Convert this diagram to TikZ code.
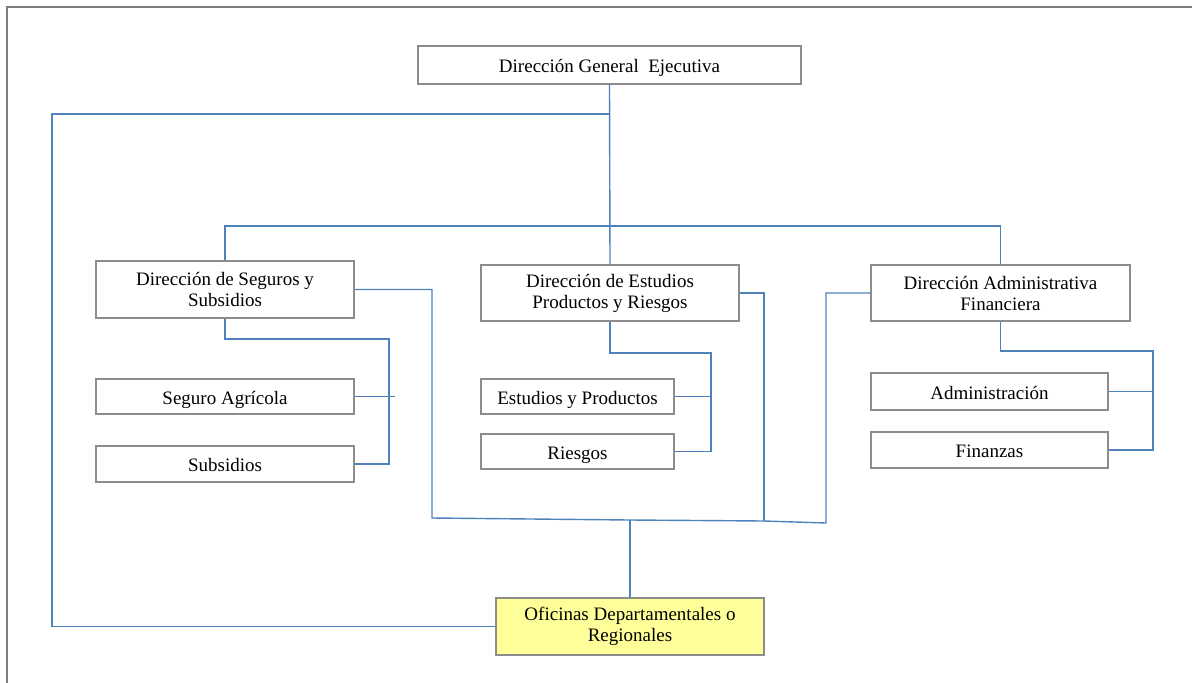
\documentclass[tikz,border=0pt]{standalone}
\usepackage{fontspec}
\setmainfont{Liberation Serif}
\usepackage{tikz}
\definecolor{linkblue}{RGB}{79,129,189}
\definecolor{boxgray}{RGB}{140,140,140}
\definecolor{ofiyellow}{RGB}{255,255,153}

\begin{document}
\begin{tikzpicture}[x=1pt, y=-1pt,
  unit/.style={draw=boxgray, line width=1.5pt, fill=white, align=center, inner sep=0pt,
    font=\fontsize{19}{21}\selectfont},
  oneline/.style={unit, text height=15pt, text depth=0pt},
  link/.style={draw=linkblue, line width=1.4pt}]
  \useasboundingbox (0,0) rectangle (1192,683);
  \draw[boxgray!90!black, line width=2pt] (7,683) -- (7,7) -- (1192,7);

  \node[oneline, minimum width=383pt, minimum height=38pt] (dge) at (609.5,65) {Dirección General\ \ Ejecutiva};
  \node[unit, minimum width=258pt, minimum height=57pt] (dss) at (225,289.5) {Dirección de Seguros y\\Subsidios};
  \node[unit, minimum width=258pt, minimum height=56pt] (depr) at (610,293) {Dirección de Estudios\\Productos y Riesgos};
  \node[unit, minimum width=259pt, minimum height=56pt] (daf) at (1000.5,293) {Dirección Administrativa\\Financiera};
  \node[oneline, minimum width=258pt, minimum height=35pt] (sagr) at (225,396.5) {Seguro Agrícola};
  \node[oneline, minimum width=258pt, minimum height=36pt] (subs) at (225,464) {Subsidios};
  \node[oneline, minimum width=193pt, minimum height=35pt] (eyp) at (577.5,396.5) {Estudios y Productos};
  \node[oneline, minimum width=193pt, minimum height=35pt] (rsg) at (577.5,451.5) {Riesgos};
  \node[oneline, minimum width=237pt, minimum height=37pt] (adm) at (989.5,391.5) {Administración};
  \node[oneline, minimum width=237pt, minimum height=36pt] (fin) at (989.5,450) {Finanzas};
  \node[unit, fill=ofiyellow, minimum width=268pt, minimum height=57pt] (ofi) at (630,626.5) {Oficinas Departamentales o\\Regionales};

  \coordinate (tl) at (52,114);
  \coordinate (br) at (610,226);
  \coordinate (jn) at (630,520);

  \draw[link] (dge.south) -- (depr.north);
  \draw[link] (dge.south |- tl) -- (tl) |- (ofi.west);
  \draw[link] (dss.north) -- (dss.north |- br) -- (daf.north |- br) -- (daf.north);

  \draw[link] (dss.south) |- (389,339) |- (subs.east);
  \draw[link] (sagr.east) -- ++(40,0);
  \draw[link] (depr.south) |- (711,353) |- (rsg.east);
  \draw[link] (eyp.east) -- ++(37,0);
  \draw[link] (daf.south) |- (1153,351) |- (fin.east);
  \draw[link] (adm.east) -- ++(45,0);

  \draw[link] (dss.east) -| (432,518) -- (jn) -- (764,521) -- (826,523) |- (daf.west);
  \draw[link] (depr.east) -| (764,521);
  \draw[link] (jn) -- (ofi.north);
\end{tikzpicture}
\end{document}
